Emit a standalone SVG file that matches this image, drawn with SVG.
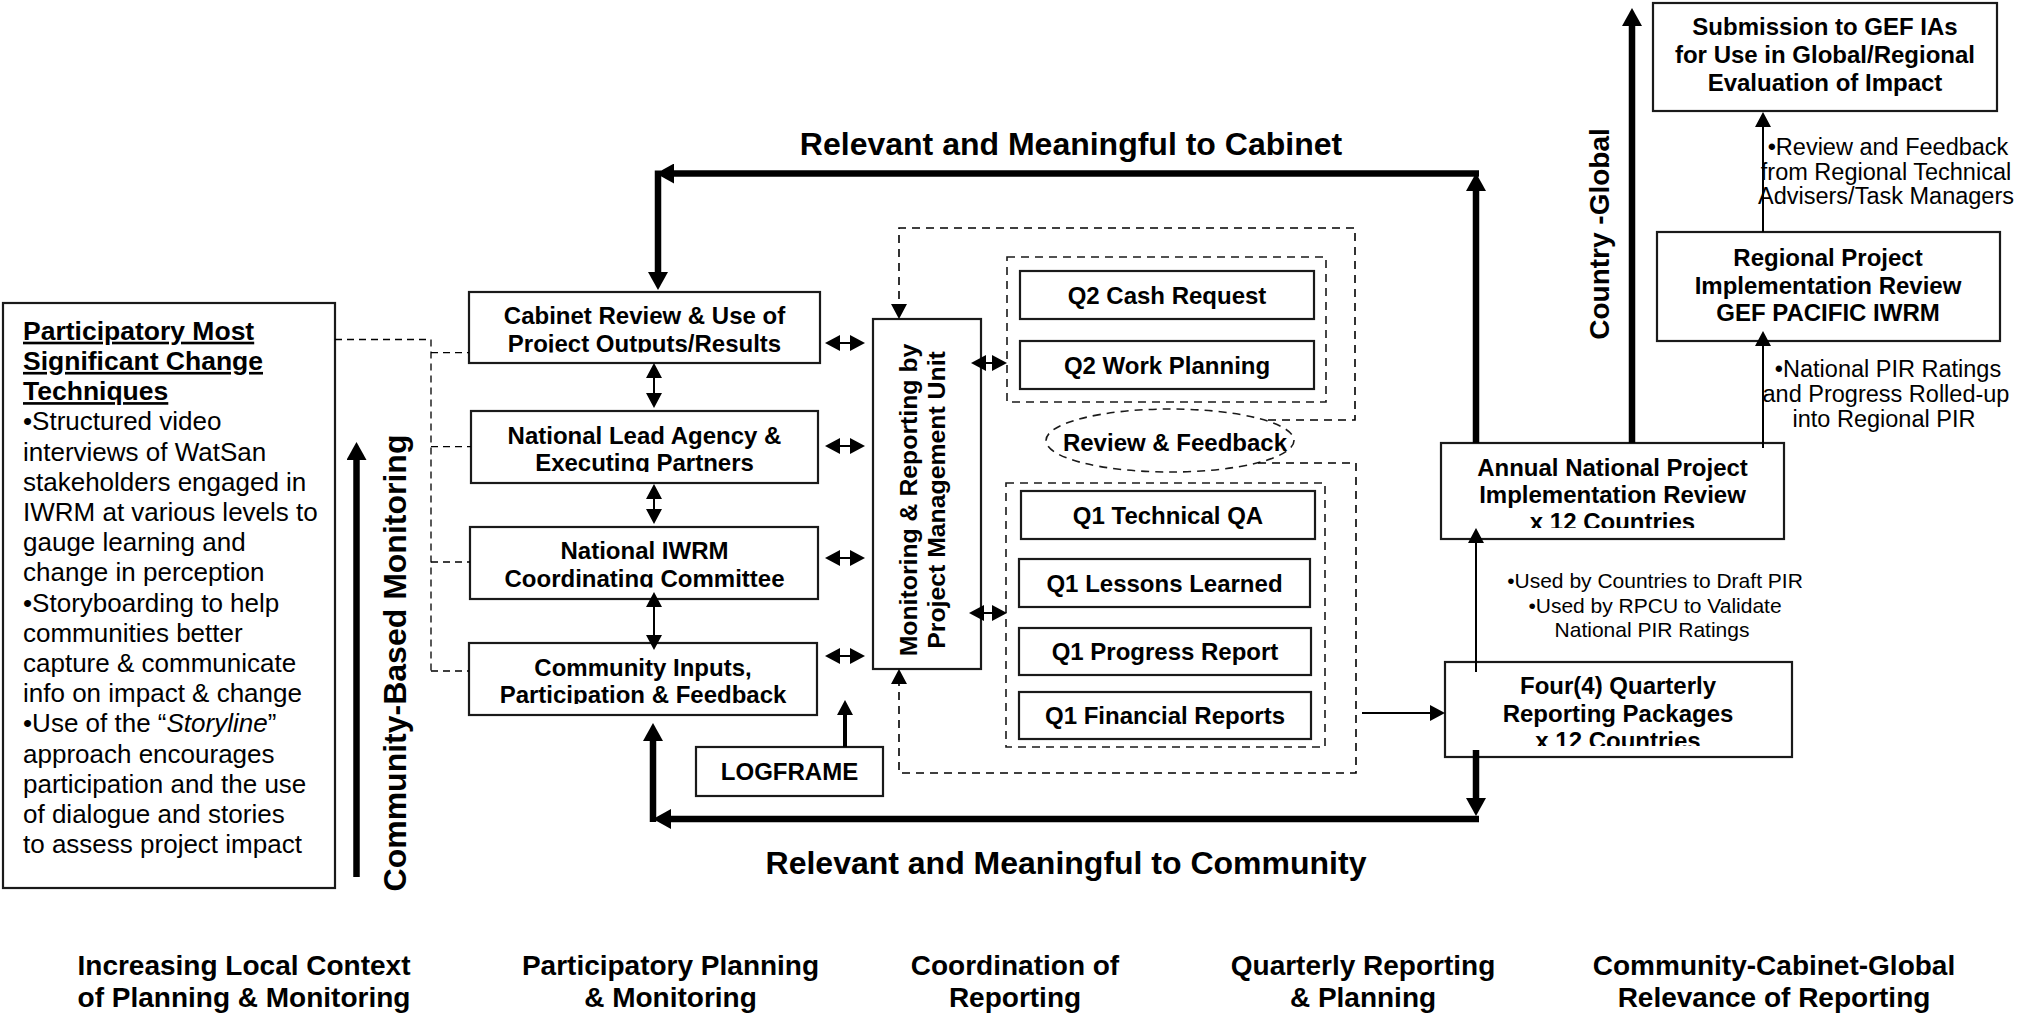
<svg xmlns="http://www.w3.org/2000/svg" width="2022" height="1017" viewBox="0 0 2022 1017">
<style>
.box{fill:#fff;stroke:#1a1a1a;stroke-width:2.2}
.dbox{fill:none;stroke:#1a1a1a;stroke-width:1.6;stroke-dasharray:8 6}
.t24{font-family:"Liberation Sans",Arial,sans-serif;font-weight:bold;font-size:24px;text-anchor:middle;fill:#000}
.lbl{font-family:"Liberation Sans",Arial,sans-serif;font-weight:bold;font-size:32px;text-anchor:middle;fill:#000}
.foot{font-family:"Liberation Sans",Arial,sans-serif;font-weight:bold;font-size:28px;text-anchor:middle;fill:#000}
.ann{font-family:"Liberation Sans",Arial,sans-serif;font-size:21px;text-anchor:middle;fill:#000}
.annL{font-family:"Liberation Sans",Arial,sans-serif;font-size:23.5px;text-anchor:middle;fill:#000}
.body{font-family:"Liberation Sans",Arial,sans-serif;font-size:26px;fill:#000}
.title{font-family:"Liberation Sans",Arial,sans-serif;font-weight:bold;font-size:26.5px;text-decoration:underline;fill:#000}
.thick{stroke:#000;stroke-width:6.5;fill:none}
.thin{stroke:#000;stroke-width:2;fill:none}
.mid{stroke:#000;stroke-width:4;fill:none}
.dash{stroke:#000;stroke-width:1.6;fill:none;stroke-dasharray:8 6}
.ldash{stroke:#000;stroke-width:1.3;fill:none;stroke-dasharray:7 5}
</style>
<defs>
<marker id="hk" markerUnits="userSpaceOnUse" markerWidth="18" markerHeight="20" refX="0" refY="10" orient="auto-start-reverse" viewBox="0 0 18 20"><path d="M0,0 L18,10 L0,20 z" fill="#000"/></marker>
<marker id="hn" markerUnits="userSpaceOnUse" markerWidth="15" markerHeight="16" refX="0" refY="8" orient="auto-start-reverse" viewBox="0 0 15 16"><path d="M0,0 L15,8 L0,16 z" fill="#000"/></marker>
<clipPath id="cCab"><rect x="469" y="292" width="351" height="60.5"/></clipPath>
<clipPath id="cNat"><rect x="471" y="411" width="347" height="61"/></clipPath>
<clipPath id="cIW"><rect x="470" y="527" width="348" height="60.5"/></clipPath>
<clipPath id="cCom"><rect x="469" y="643" width="348" height="61"/></clipPath>
<clipPath id="cAnn"><rect x="1441" y="443" width="343" height="85"/></clipPath>
<clipPath id="cFour"><rect x="1445" y="662" width="347" height="84"/></clipPath>
</defs>
<rect width="2022" height="1017" fill="#fff"/>

<g id="msc-techniques">
<rect class="box" x="3" y="303" width="332" height="585"/>
<text class="title" x="23" y="339.7">Participatory Most</text>
<text class="title" x="23" y="369.9">Significant Change</text>
<text class="title" x="23" y="400.1">Techniques</text>
<text class="body" x="23" y="430.3">•Structured video</text>
<text class="body" x="23" y="460.5">interviews of WatSan</text>
<text class="body" x="23" y="490.7">stakeholders engaged in</text>
<text class="body" x="23" y="520.9">IWRM at various levels to</text>
<text class="body" x="23" y="551.1">gauge learning and</text>
<text class="body" x="23" y="581.3">change in perception</text>
<text class="body" x="23" y="611.5">•Storyboarding to help</text>
<text class="body" x="23" y="641.7">communities better</text>
<text class="body" x="23" y="671.9">capture &amp; communicate</text>
<text class="body" x="23" y="702.1">info on impact &amp; change</text>
<text class="body" x="23" y="732.3">•Use of the “<tspan font-style="italic">Storyline</tspan>”</text>
<text class="body" x="23" y="762.5">approach encourages</text>
<text class="body" x="23" y="792.7">participation and the use</text>
<text class="body" x="23" y="822.9">of dialogue and stories</text>
<text class="body" x="23" y="853.1">to assess project impact</text>
</g>

<g id="cabinet-review">
<rect class="box" x="469" y="292" width="351" height="71"/>
<g clip-path="url(#cCab)"><text class="t24" x="644.5" y="324">Cabinet Review &amp; Use of</text><text class="t24" x="644.5" y="351.5">Project Outputs/Results</text></g>
</g>
<g id="national-lead-agency">
<rect class="box" x="471" y="411" width="347" height="72"/>
<g clip-path="url(#cNat)"><text class="t24" x="644.5" y="444">National Lead Agency &amp;</text><text class="t24" x="644.5" y="471">Executing Partners</text></g>
</g>
<g id="national-iwrm-committee">
<rect class="box" x="470" y="527" width="348" height="72"/>
<g clip-path="url(#cIW)"><text class="t24" x="644.5" y="559">National IWRM</text><text class="t24" x="644.5" y="586.5">Coordinating Committee</text></g>
</g>
<g id="community-inputs">
<rect class="box" x="469" y="643" width="348" height="72"/>
<g clip-path="url(#cCom)"><text class="t24" x="643" y="675.5">Community Inputs,</text><text class="t24" x="643" y="703">Participation &amp; Feedback</text></g>
</g>
<g id="logframe">
<rect class="box" x="696" y="747" width="187" height="49"/>
<text class="t24" x="789.5" y="780">LOGFRAME</text>
</g>
<g id="pmu-monitoring">
<rect class="box" x="873" y="319" width="108" height="350"/>
<text class="t24" style="font-size:24.8px" transform="translate(917,500) rotate(-90)">Monitoring &amp; Reporting by</text>
<text class="t24" style="font-size:24.8px" transform="translate(945,500) rotate(-90)">Project Management Unit</text>
</g>

<g id="q2-group">
<rect class="dbox" x="1007" y="257" width="319" height="145"/>
</g>
<g id="q2-cash-request">
<rect class="box" x="1020" y="271" width="294" height="48"/>
<text class="t24" x="1167" y="303.5">Q2 Cash Request</text>
</g>
<g id="q2-work-planning">
<rect class="box" x="1020" y="341" width="294" height="48"/>
<text class="t24" x="1167" y="373.5">Q2 Work Planning</text>
</g>
<g id="review-feedback">
<ellipse cx="1170" cy="440.5" rx="124" ry="31.5" fill="none" stroke="#1a1a1a" stroke-width="1.6" stroke-dasharray="8 6"/>
<text class="t24" x="1175" y="450.5">Review &amp; Feedback</text>
</g>
<g id="q1-group">
<rect class="dbox" x="1006" y="483" width="319" height="264"/>
</g>
<g id="q1-technical-qa">
<rect class="box" x="1021" y="491" width="294" height="48"/>
<text class="t24" x="1168" y="523.5">Q1 Technical QA</text>
</g>
<g id="q1-lessons-learned">
<rect class="box" x="1019" y="559" width="291" height="48"/>
<text class="t24" x="1164.5" y="591.5">Q1 Lessons Learned</text>
</g>
<g id="q1-progress-report">
<rect class="box" x="1019" y="628" width="292" height="47"/>
<text class="t24" x="1165" y="660">Q1 Progress Report</text>
</g>
<g id="q1-financial-reports">
<rect class="box" x="1019" y="692" width="292" height="47"/>
<text class="t24" x="1165" y="724">Q1 Financial Reports</text>
</g>

<g id="annual-national-pir">
<rect class="box" x="1441" y="443" width="343" height="96"/>
<g clip-path="url(#cAnn)"><text class="t24" x="1612.5" y="476">Annual National Project</text><text class="t24" x="1612.5" y="503">Implementation Review</text><text class="t24" x="1612.5" y="530">x 12 Countries</text></g>
</g>
<g id="quarterly-packages">
<rect class="box" x="1445" y="662" width="347" height="95"/>
<g clip-path="url(#cFour)"><text class="t24" x="1618" y="694">Four(4) Quarterly</text><text class="t24" x="1618" y="721.5">Reporting Packages</text><text class="t24" x="1618" y="749">x 12 Countries</text></g>
</g>
<g id="regional-pir">
<rect class="box" x="1657" y="232" width="343" height="109"/>
<text class="t24" x="1828" y="266">Regional Project</text>
<text class="t24" x="1828" y="293.5">Implementation Review</text>
<text class="t24" x="1828" y="321">GEF PACIFIC IWRM</text>
</g>
<g id="gef-submission">
<rect class="box" x="1653" y="3" width="344" height="108"/>
<text class="t24" x="1825" y="35">Submission to GEF IAs</text>
<text class="t24" x="1825" y="63">for Use in Global/Regional</text>
<text class="t24" x="1825" y="91">Evaluation of Impact</text>
</g>

<g id="connectors">
<path class="ldash" d="M335,339.5 H431 V671"/>
<path class="ldash" d="M431,352.7 H469 M431,446.7 H471 M431,562 H470 M431,671 H469"/>
<path class="thick" d="M1476,443 V191" marker-end="url(#hk)"/>
<path class="thick" d="M1479,173.5 H674" marker-end="url(#hk)"/>
<path class="thick" d="M658,170.5 V272" marker-end="url(#hk)"/>
<path class="thick" d="M1632,443 V26" marker-end="url(#hk)"/>
<path class="thick" d="M1476,750 V798" marker-end="url(#hk)"/>
<path class="thick" d="M1479,819 H671" marker-end="url(#hk)"/>
<path class="thick" d="M653,822 V741" marker-end="url(#hk)"/>
<path class="thick" d="M356.5,877 V460" marker-end="url(#hk)"/>
<path class="mid" d="M845,747 V715" marker-end="url(#hn)"/>
<path class="thin" d="M654,378 V393" marker-start="url(#hn)" marker-end="url(#hn)"/>
<path class="thin" d="M654,499 V509" marker-start="url(#hn)" marker-end="url(#hn)"/>
<path class="thin" d="M654,607 V635" marker-start="url(#hn)" marker-end="url(#hn)"/>
<path class="thin" d="M840,343 H850" marker-start="url(#hn)" marker-end="url(#hn)"/>
<path class="thin" d="M840,446 H850" marker-start="url(#hn)" marker-end="url(#hn)"/>
<path class="thin" d="M840,558 H850" marker-start="url(#hn)" marker-end="url(#hn)"/>
<path class="thin" d="M840,656 H850" marker-start="url(#hn)" marker-end="url(#hn)"/>
<path class="thin" d="M986,363 H992" marker-start="url(#hn)" marker-end="url(#hn)"/>
<path class="thin" d="M984,613 H992" marker-start="url(#hn)" marker-end="url(#hn)"/>
<path class="dash" d="M1268,420 H1355 V228 H899 V304" marker-end="url(#hn)"/>
<path class="dash" d="M1258,463 H1356 V773 H899 V684" marker-end="url(#hn)"/>
<path class="thin" d="M1362,713 H1430" marker-end="url(#hn)"/>
<path class="thin" d="M1476,672 V543" marker-end="url(#hn)"/>
<path class="thin" d="M1763,448 V346" marker-end="url(#hn)"/>
<path class="thin" d="M1763,232 V127" marker-end="url(#hn)"/>
</g>

<g id="labels">
<text class="lbl" x="1071" y="154.5">Relevant and Meaningful to Cabinet</text>
<text class="lbl" x="1066" y="874">Relevant and Meaningful to Community</text>
<text class="lbl" transform="translate(406,663) rotate(-90)">Community-Based Monitoring</text>
<text class="lbl" style="font-size:28px" transform="translate(1609,234) rotate(-90)">Country -Global</text>
<text class="annL" x="1888" y="155">•Review and Feedback</text>
<text class="annL" x="1886" y="180">from Regional Technical</text>
<text class="annL" x="1886" y="204">Advisers/Task Managers</text>
<text class="annL" x="1888" y="377">•National PIR Ratings</text>
<text class="annL" x="1886" y="402">and Progress Rolled-up</text>
<text class="annL" x="1884" y="427">into Regional PIR</text>
<text class="ann" x="1655" y="588">•Used by Countries to Draft PIR</text>
<text class="ann" x="1655" y="613">•Used by RPCU to Validate</text>
<text class="ann" x="1652" y="637">National PIR Ratings</text>
<text class="foot" x="244" y="974.5">Increasing Local Context</text>
<text class="foot" x="244" y="1007">of Planning &amp; Monitoring</text>
<text class="foot" x="670.5" y="974.5">Participatory Planning</text>
<text class="foot" x="670.5" y="1007">&amp; Monitoring</text>
<text class="foot" x="1015" y="974.5">Coordination of</text>
<text class="foot" x="1015" y="1007">Reporting</text>
<text class="foot" x="1363" y="974.5">Quarterly Reporting</text>
<text class="foot" x="1363" y="1007">&amp; Planning</text>
<text class="foot" x="1774" y="974.5">Community-Cabinet-Global</text>
<text class="foot" x="1774" y="1007">Relevance of Reporting</text>
</g>
</svg>
